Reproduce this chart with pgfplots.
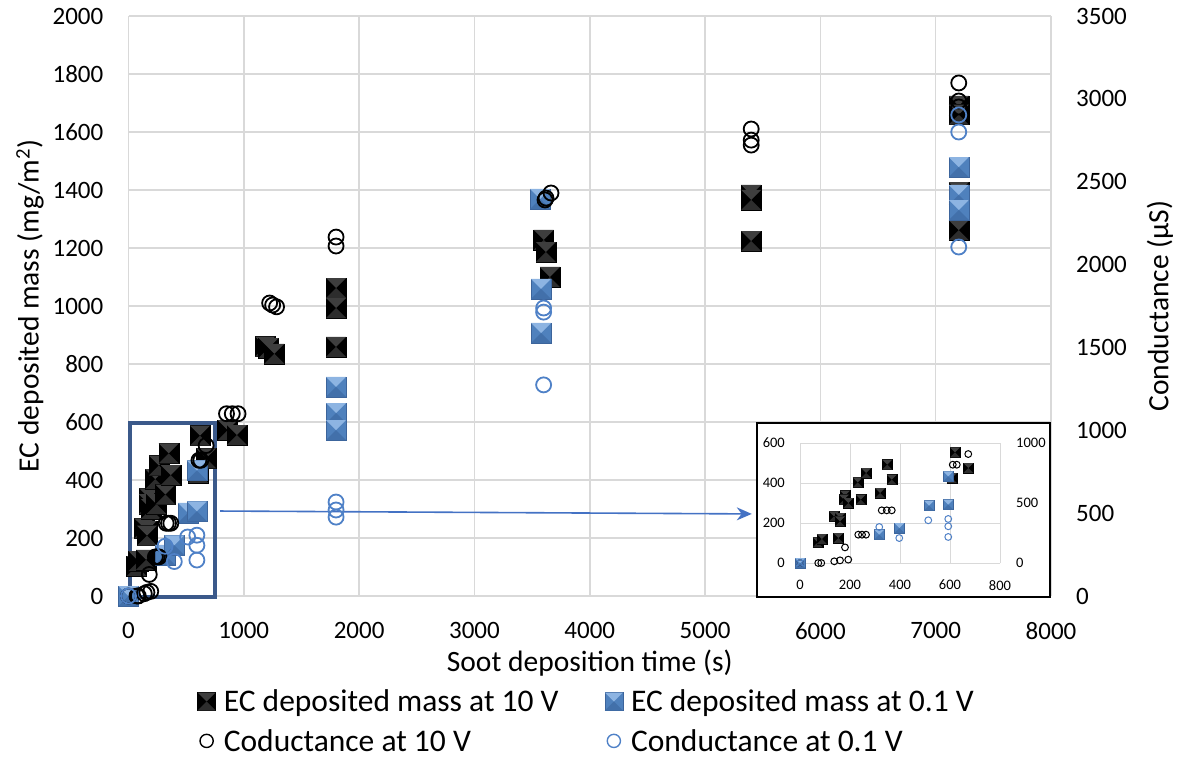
\documentclass[border=0pt]{standalone}
\usepackage{fontspec}
\setmainfont{Carlito}
\usepackage{pgfplots}
\pgfplotsset{compat=1.18}
\usepackage{pgfplotstable}
\usetikzlibrary{arrows.meta}

\definecolor{gridc}{RGB}{217,217,217}
\definecolor{cblue}{RGB}{79,129,199}
\definecolor{boxblue}{RGB}{59,89,138}
\definecolor{arrowblue}{RGB}{68,114,196}
\definecolor{mkKtop}{RGB}{62,62,62}
\definecolor{mkKbot}{RGB}{45,45,45}
\definecolor{mkBside}{RGB}{79,129,189}
\definecolor{mkBtop}{RGB}{141,180,226}
\definecolor{mkBbot}{RGB}{66,112,170}
\definecolor{mkBedge}{RGB}{60,100,155}

\pgfdeclareplotmark{pyrK}{%
  \pgfsetlinewidth{0.4pt}%
  \pgfpathrectangle{\pgfpoint{-\pgfplotmarksize}{-\pgfplotmarksize}}{\pgfpoint{2\pgfplotmarksize}{2\pgfplotmarksize}}%
  \pgfsetfillcolor{black}\pgfsetstrokecolor{black}\pgfusepath{fill,stroke}%
  \pgfpathmoveto{\pgfpoint{-\pgfplotmarksize}{\pgfplotmarksize}}%
  \pgfpathlineto{\pgfpoint{\pgfplotmarksize}{\pgfplotmarksize}}%
  \pgfpathlineto{\pgfpointorigin}\pgfpathclose
  \pgfsetfillcolor{mkKtop}\pgfusepath{fill}%
  \pgfpathmoveto{\pgfpoint{-\pgfplotmarksize}{-\pgfplotmarksize}}%
  \pgfpathlineto{\pgfpoint{\pgfplotmarksize}{-\pgfplotmarksize}}%
  \pgfpathlineto{\pgfpointorigin}\pgfpathclose
  \pgfsetfillcolor{mkKbot}\pgfusepath{fill}%
}
\pgfdeclareplotmark{pyrB}{%
  \pgfsetlinewidth{0.4pt}%
  \pgfpathrectangle{\pgfpoint{-\pgfplotmarksize}{-\pgfplotmarksize}}{\pgfpoint{2\pgfplotmarksize}{2\pgfplotmarksize}}%
  \pgfsetfillcolor{mkBside}\pgfsetstrokecolor{mkBedge}\pgfusepath{fill,stroke}%
  \pgfpathmoveto{\pgfpoint{-\pgfplotmarksize}{\pgfplotmarksize}}%
  \pgfpathlineto{\pgfpoint{\pgfplotmarksize}{\pgfplotmarksize}}%
  \pgfpathlineto{\pgfpointorigin}\pgfpathclose
  \pgfsetfillcolor{mkBtop}\pgfusepath{fill}%
  \pgfpathmoveto{\pgfpoint{-\pgfplotmarksize}{-\pgfplotmarksize}}%
  \pgfpathlineto{\pgfpoint{\pgfplotmarksize}{-\pgfplotmarksize}}%
  \pgfpathlineto{\pgfpointorigin}\pgfpathclose
  \pgfsetfillcolor{mkBbot}\pgfusepath{fill}%
}

% EC deposited mass at 10 V (mg/m2)
\pgfplotstableread{
t m
0 0
71 103
87 120
136 233
160 225
160 208
153 125
180 337
176 317
193 300
231 403
264 450
243 317
320 350
349 492
367 417
620 553
607 425
673 475
860 572
940 555
1185 860
1215 855
1265 835
1800 1062
1800 993
1800 859
3600 1228
3620 1186
3655 1100
5400 1383
5400 1366
5400 1224
7200 1690
7200 1660
7200 1393
7200 1262
}\ecten

% EC deposited mass at 0.1 V (mg/m2)
\pgfplotstableread{
t m
0 0
317 142
397 175
516 287
593 292
593 433
1800 721
1800 631
1800 572
3570 1369
3578 1059
3578 907
7200 1479
7200 1383
7200 1331
}\ecpone

% Conductance at 10 V (uS)
\pgfplotstableread{
t c
0 0
73 0
85 0
137 14
160 22
193 28
180 130
233 236
248 236
264 236
327 439
347 439
367 439
611 819
627 819
673 908
850 1100
900 1100
950 1100
1224 1768
1250 1756
1284 1745
1800 2166
1800 2112
3612 2390
3621 2401
3664 2432
5400 2818
5400 2751
5400 2721
7200 3096
7200 2987
7200 2951
}\cten

% Conductance at 0.1 V (uS)
\pgfplotstableread{
t c
0 0
317 300
397 208
513 356
593 367
593 306
593 217
1800 567
1800 519
1800 476
3600 1738
3600 1713
3600 1274
7200 2903
7200 2800
7200 2106
}\cpone

\begin{document}
\begin{tikzpicture}
\path[use as bounding box] (0,0) rectangle (1185pt,761pt);

\pgfplotsset{
  mainax/.style={
    at={(128.5pt,165pt)}, anchor=south west,
    width=922.5pt, height=580pt, scale only axis,
    xmin=0, xmax=8000,
    axis line style={draw=none},
    major tick length=0pt,
    tick label style={font=\fontsize{25}{30}\selectfont},
    /pgf/number format/assume math mode=true,
    /pgf/number format/set thousands separator={},
    label style={font=\fontsize{29.5}{35}\selectfont},
    clip=false,
  },
  insax/.style={
    at={(800pt,198pt)}, anchor=south west,
    width=200pt, height=120pt, scale only axis,
    xmin=0, xmax=800,
    axis line style={draw=none},
    major tick length=0pt,
    tick label style={font=\fontsize{14.5}{17}\selectfont},
    /pgf/number format/assume math mode=true,
    /pgf/number format/set thousands separator={},
    clip=false,
    restrict x to domain=-1:800,
  }
}

% ---------- main: left axis ----------
\begin{axis}[mainax,
  ymin=0, ymax=2000,
  xtick={0,1000,...,8000}, ytick={0,200,...,2000},
  grid=major, major grid style={gridc, line width=1.6pt},
  xticklabel style={anchor=north, inner sep=0pt, yshift=-26pt},
  yticklabel style={anchor=east, inner sep=0pt, xshift=-25pt},
  xlabel={Soot deposition time (s)},
  ylabel={EC deposited mass (mg/m\textsuperscript{2})},
  xlabel style={at={(axis description cs:0.5,-0.1155)}, anchor=center},
  ylabel style={at={(axis description cs:-0.1068,0.5)}, anchor=center},
]
\addplot[only marks, mark=pyrK, mark size=10pt] table[x=t,y=m] {\ecten};
\addplot[only marks, mark=pyrB, mark size=10pt] table[x=t,y=m] {\ecpone};
\draw[line width=4pt, boxblue] (axis cs:10,-5) rectangle (axis cs:750,595);
\draw[line width=1.6pt, arrowblue, -{Stealth[length=15pt,width=13pt]}] (axis cs:795,293) -- (axis cs:5405,283);
\end{axis}

% ---------- main: right axis ----------
\begin{axis}[mainax,
  ymin=0, ymax=3500,
  hide x axis,
  axis y line*=right,
  ytick={0,500,...,3500},
  yticklabel style={anchor=west, inner sep=0pt, xshift=25pt},
  ylabel={Conductance (µS)},
  ylabel style={at={(axis description cs:1.118,0.5)}, anchor=center},
  legend columns=2,
  legend cell align=left,
  legend style={at={(axis description cs:0.0745,-0.158)}, anchor=north west,
    draw=none, fill=none, font=\fontsize{31.5}{37}\selectfont,
    inner sep=0pt, row sep=12pt,
    /tikz/every odd column/.append style={column sep=6pt},
    /tikz/every even column/.append style={column sep=44pt}},
]
\addlegendimage{only marks, mark=pyrK, mark size=9pt}
\addlegendentry{EC deposited mass at 10 V}
\addlegendimage{only marks, mark=pyrB, mark size=9pt}
\addlegendentry{EC deposited mass at 0.1 V}
\addlegendimage{only marks, mark=o, mark size=6.6pt, mark options={line width=1.4pt, draw=black}}
\addlegendentry{Coductance at 10 V}
\addlegendimage{only marks, mark=o, mark size=6.6pt, mark options={line width=1.4pt, draw=cblue}}
\addlegendentry{Conductance at 0.1 V}
\addplot[forget plot, only marks, mark=o, mark size=7.5pt, mark options={line width=1.8pt, draw=black}] table[x=t,y=c] {\cten};
\addplot[forget plot, only marks, mark=o, mark size=7.5pt, mark options={line width=1.8pt, draw=cblue}] table[x=t,y=c] {\cpone};
\end{axis}

% ---------- inset ----------
\draw[line width=2pt, fill=white] (757pt,164pt) rectangle (1050pt,338pt);

\begin{axis}[insax,
  ymin=0, ymax=600,
  xtick={0,200,...,800}, ytick={0,200,...,600},
  grid=major, major grid style={gridc, line width=0.8pt},
  xticklabel style={anchor=north, inner sep=0pt, yshift=-17pt},
  yticklabel style={anchor=east, inner sep=0pt, xshift=-15pt},
]
\addplot[only marks, mark=pyrK, mark size=5pt] table[x=t,y=m] {\ecten};
\addplot[only marks, mark=pyrB, mark size=5pt] table[x=t,y=m] {\ecpone};
\end{axis}

\begin{axis}[insax,
  ymin=0, ymax=1000,
  hide x axis,
  axis y line*=right,
  ytick={0,500,1000},
  yticklabel style={anchor=west, inner sep=0pt, xshift=16pt},
  restrict y to domain=-1:1000,
]
\addplot[only marks, mark=o, mark size=3.4pt, mark options={line width=1pt, draw=black}] table[x=t,y=c] {\cten};
\addplot[only marks, mark=o, mark size=3.4pt, mark options={line width=1pt, draw=cblue}] table[x=t,y=c] {\cpone};
\end{axis}
\end{tikzpicture}
\end{document}
